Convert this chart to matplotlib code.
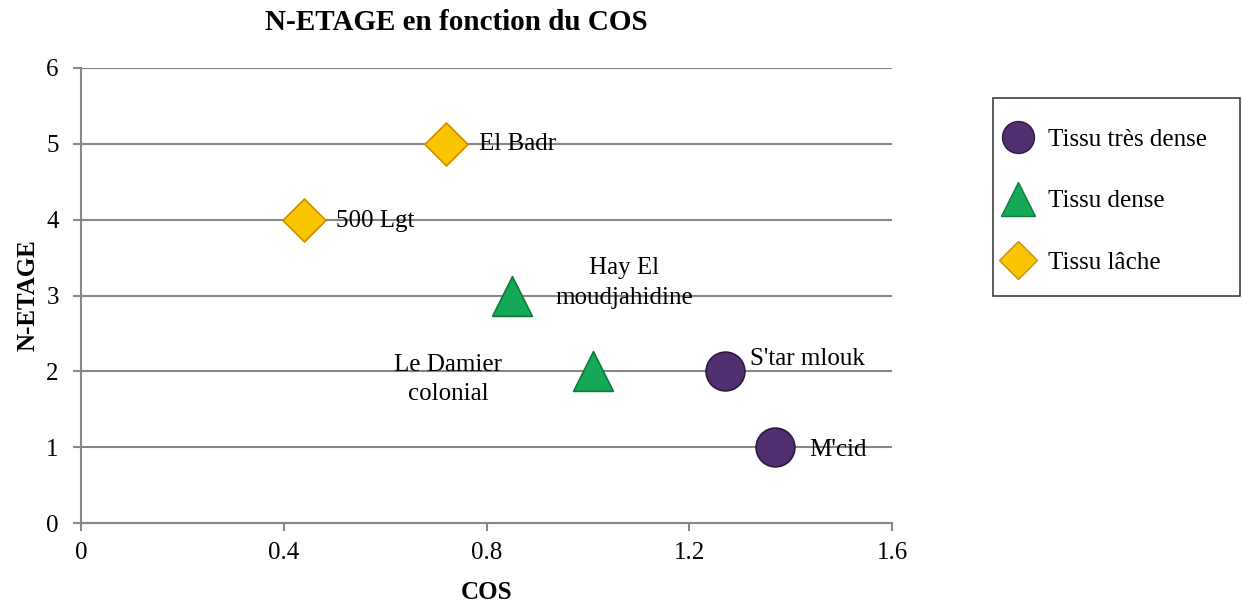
import matplotlib.pyplot as plt
from matplotlib.lines import Line2D
from matplotlib.patches import Rectangle

plt.rcParams['font.family'] = ['Liberation Serif', 'DejaVu Serif']

# COS / number of floors by urban fabric type
tres_dense_names = ["S'tar mlouk", "M'cid"]
tres_dense_cos = [1.27, 1.37]
tres_dense_etage = [2, 1]

dense_names = ["Hay El\nmoudjahidine", "Le Damier\ncolonial"]
dense_cos = [0.85, 1.01]
dense_etage = [3, 2]

lache_names = ["El Badr", "500 Lgt"]
lache_cos = [0.72, 0.44]
lache_etage = [5, 4]

legend_labels = ["Tissu très dense", "Tissu dense", "Tissu lâche"]

purple = '#52306f'
green = '#15a957'
gold = '#f8c500'
FS = 18
W, H = 1242, 605

fig = plt.figure(figsize=(W / 100, H / 100), dpi=100)
ax = fig.add_axes([81 / W, 1 - 523 / H, 811 / W, 455 / H])

ax.scatter(tres_dense_cos, tres_dense_etage, s=780, marker='o', color=purple,
           edgecolors='#2e1745', linewidths=1.2, zorder=3)
ax.scatter(dense_cos, dense_etage, s=820, marker='^', color=green,
           edgecolors='#0c7a3c', linewidths=1.2, zorder=3)
ax.scatter(lache_cos, lache_etage, s=480, marker='D', color=gold,
           edgecolors='#c79000', linewidths=1.2, zorder=3)

# point labels
ax.annotate(lache_names[0], (lache_cos[0], lache_etage[0]), xytext=(24, 0),
            textcoords='offset points', fontsize=FS, va='center', ha='left')
ax.annotate(lache_names[1], (lache_cos[1], lache_etage[1]), xytext=(23, -1),
            textcoords='offset points', fontsize=FS, va='center', ha='left')
ax.annotate(dense_names[0], (dense_cos[0], dense_etage[0]), xytext=(81, 9),
            textcoords='offset points', fontsize=FS, va='center', ha='center',
            linespacing=1.45)
ax.annotate(dense_names[1], (dense_cos[1], dense_etage[1]), xytext=(-104, -6),
            textcoords='offset points', fontsize=FS, va='center', ha='center',
            linespacing=1.45)
ax.annotate(tres_dense_names[0], (tres_dense_cos[0], tres_dense_etage[0]), xytext=(18, 9),
            textcoords='offset points', fontsize=FS, va='center', ha='left')
ax.annotate(tres_dense_names[1], (tres_dense_cos[1], tres_dense_etage[1]), xytext=(24, -2),
            textcoords='offset points', fontsize=FS, va='center', ha='left')

ax.set_xlim(0, 1.6)
ax.set_ylim(0, 6)
ax.set_xticks([0, 0.4, 0.8, 1.2, 1.6])
ax.set_xticklabels(['0', '0.4', '0.8', '1.2', '1.6'])
ax.set_yticks(range(7))
ax.yaxis.grid(True, color='#878787', linewidth=1.5)
ax.set_axisbelow(True)
for side in ['top', 'right']:
    ax.spines[side].set_visible(False)
for side in ['left', 'bottom']:
    ax.spines[side].set_color('#878787')
    ax.spines[side].set_linewidth(1.5)
ax.tick_params(axis='both', labelsize=FS, color='#878787', width=1.5, length=6)
ax.tick_params(axis='x', pad=8)
ax.tick_params(axis='y', pad=10)

ax.set_xlabel('COS', fontsize=FS, fontweight='bold', labelpad=12)
ax.set_ylabel('N-ETAGE', fontsize=FS, fontweight='bold', labelpad=5)
fig.text(456 / W, 1 - 30 / H, 'N-ETAGE en fonction du COS', fontsize=21,
         fontweight='bold', ha='center', va='baseline')

# legend: entries without frame, box drawn separately
handles = [
    Line2D([], [], linestyle='none', marker='o', markersize=23, color=purple,
           markeredgecolor='#2e1745'),
    Line2D([], [], linestyle='none', marker='^', markersize=25, color=green,
           markeredgecolor='#0c7a3c'),
    Line2D([], [], linestyle='none', marker='D', markersize=19, color=gold,
           markeredgecolor='#c79000'),
]
fig.legend(handles, legend_labels, loc='center left',
           bbox_to_anchor=(999 / W, 1 - 201 / H), fontsize=FS, frameon=False,
           labelspacing=1.57, handlelength=1.52, handletextpad=0.44,
           borderpad=0, borderaxespad=0)
fig.patches.append(Rectangle((993 / W, 1 - 296 / H), 247 / W, 198 / H,
                             transform=fig.transFigure, fill=False,
                             edgecolor='#404040', linewidth=1.2))

fig.savefig('out.png', dpi=100)
